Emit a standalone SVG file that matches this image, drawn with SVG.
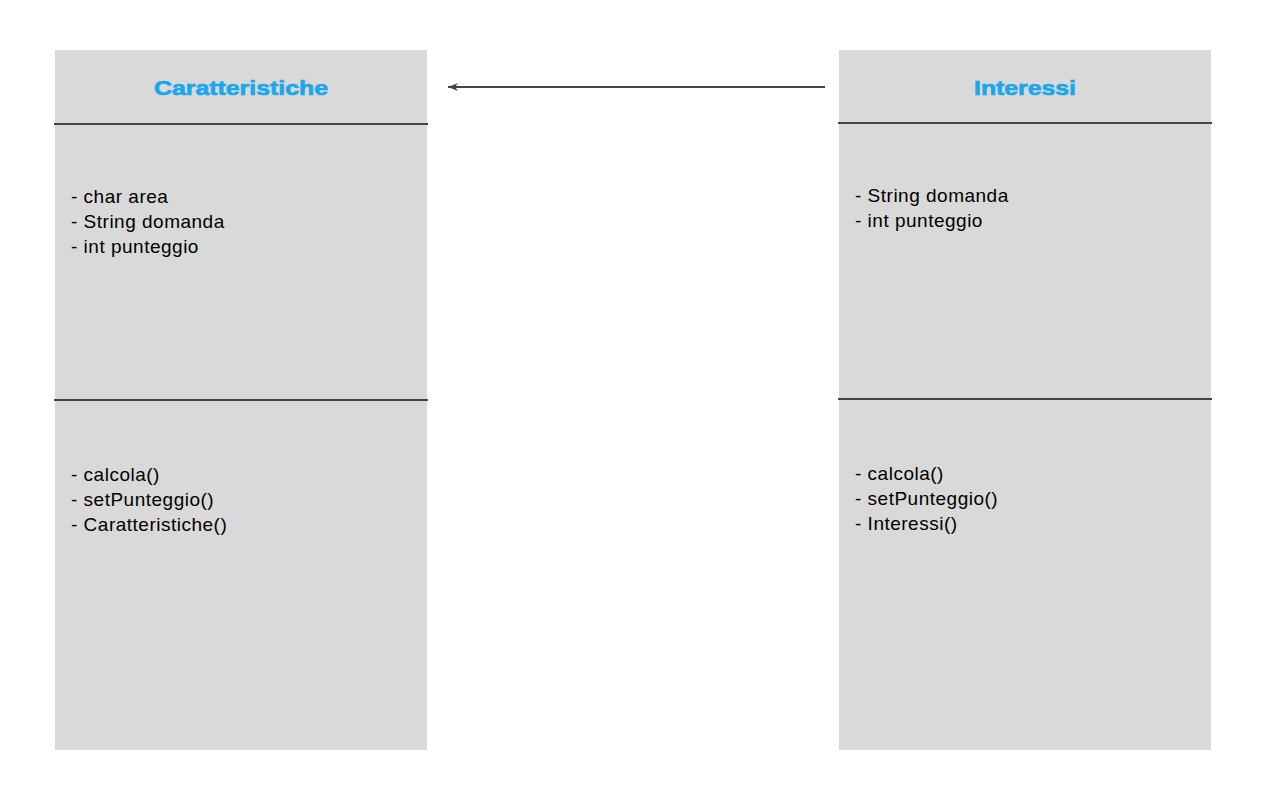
<svg xmlns="http://www.w3.org/2000/svg" width="1280" height="800" viewBox="0 0 1280 800">
<defs>
<style>
.box{fill:#d9d9d9;stroke:none}
.sep{stroke:#444;stroke-width:2}
.title{font-family:"Liberation Sans","DejaVu Sans",sans-serif;font-weight:bold;font-size:21px;fill:#1aa7ec;stroke:#1aa7ec;stroke-width:0.7;text-anchor:middle}
.body{font-family:"Comic Sans MS","Liberation Sans","DejaVu Sans",sans-serif;font-size:19px;letter-spacing:0.5px;fill:#000}
.conn{stroke:#444;stroke-width:2;fill:none}
</style>
<marker id="arr" markerWidth="12" markerHeight="10" refX="11" refY="5" orient="auto" markerUnits="userSpaceOnUse">
<path d="M1,1 L11,5 L1,9 L4,5 Z" fill="#444"/>
</marker>
</defs>
<rect width="1280" height="800" fill="#fff"/>
<g id="node-caratteristiche">
<rect class="box" x="55" y="50" width="372" height="700"/>
<line class="sep" x1="54" y1="124" x2="428" y2="124"/>
<line class="sep" x1="54" y1="400" x2="428" y2="400"/>
<text class="title" x="241" y="95" textLength="174" lengthAdjust="spacingAndGlyphs">Caratteristiche</text>
<text class="body" x="71" y="203">- char area</text>
<text class="body" x="71" y="228">- String domanda</text>
<text class="body" x="71" y="253">- int punteggio</text>
<text class="body" x="71" y="481">- calcola()</text>
<text class="body" x="71" y="506">- setPunteggio()</text>
<text class="body" x="71" y="531">- Caratteristiche()</text>
</g>
<g id="node-interessi">
<rect class="box" x="839" y="50" width="372" height="700"/>
<line class="sep" x1="838" y1="123" x2="1212" y2="123"/>
<line class="sep" x1="838" y1="399" x2="1212" y2="399"/>
<text class="title" x="1025" y="95" textLength="102" lengthAdjust="spacingAndGlyphs">Interessi</text>
<text class="body" x="855" y="202">- String domanda</text>
<text class="body" x="855" y="227">- int punteggio</text>
<text class="body" x="855" y="480">- calcola()</text>
<text class="body" x="855" y="505">- setPunteggio()</text>
<text class="body" x="855" y="530">- Interessi()</text>
</g>
<g id="connectors">
<line class="conn" x1="825" y1="87" x2="448" y2="87" marker-end="url(#arr)"/>
</g>
</svg>
